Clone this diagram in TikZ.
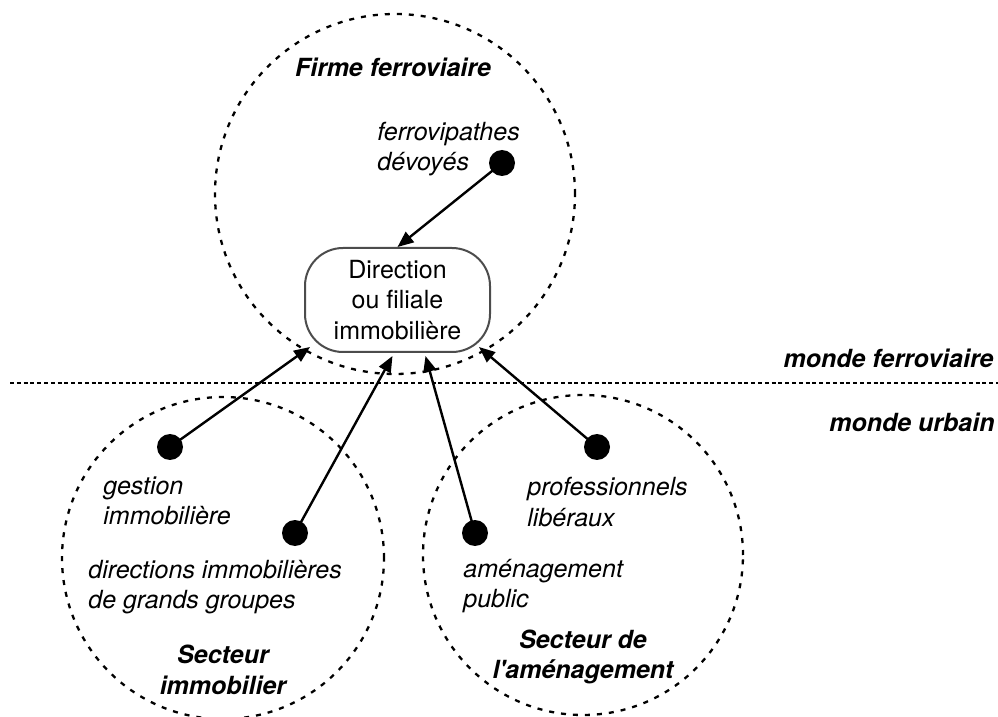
\documentclass[tikz,border=0pt]{standalone}
\usepackage{fontspec}
\setmainfont{TeX Gyre Heros}
\usetikzlibrary{arrows.meta}

\begin{document}
\begin{tikzpicture}[x=0.5pt,y=-0.5pt,line join=round,>={Triangle[length=8pt,width=6.5pt]},
	font=\fontsize{12.5}{15.25}\selectfont,
	cercle/.style={dash pattern=on 2.5pt off 3.5pt,line width=1.15pt},
	lien/.style={->,line width=1.2pt},
	boite/.style={draw=black!70,line width=1pt,rounded corners=19pt,fill=white,
		minimum width=92.5pt,minimum height=52pt,align=center,inner sep=0pt},
	etiq/.style={font=\fontsize{12.5}{15.25}\selectfont\itshape,align=left,anchor=west,inner sep=0pt},
	titre/.style={font=\fontsize{12.5}{15.25}\selectfont\bfseries\itshape,align=center,inner sep=0pt}]
	\useasboundingbox (0,0) rectangle (998,717);
	%% Khai bao diem
	\path
	(395,194) coordinate (O1)
	(223,558) coordinate (O2)
	(583,555) coordinate (O3)
	(502,163) coordinate (F)
	(170,447) coordinate (G)
	(295,533) coordinate (D)
	(475,533) coordinate (A)
	(597,447) coordinate (P)
	(10,383) coordinate (L1)
	(998,383) coordinate (L2)
	;
	
	%% les trois mondes
	\draw[cercle] (O1) circle (90pt);
	\draw[cercle] (O2) circle (80.5pt);
	\draw[cercle] (O3) circle (80pt);
	\draw[dash pattern=on 2pt off 1.4pt,line width=0.75pt] (L1)--(L2);
	
	\node[boite] (dir) at (397.5,300) {Direction\\ou filiale\\immobilière};
	\path
	([shift={(6,-6)}]dir.south west) coordinate (tG)
	([shift={(-5,3)}]dir.south) coordinate (tD)
	([shift={(28,3)}]dir.south) coordinate (tA)
	([shift={(-12,-6)}]dir.south east) coordinate (tP)
	;
	
	%% fleches
	\draw[lien] (F)--(dir.north);
	\draw[lien] (G)--(tG);
	\draw[lien] (D)--(tD);
	\draw[lien] (A)--(tA);
	\draw[lien] (P)--(tP);
	%% vẽ điểm
	\foreach \x in {F,G,D,A,P}
	\fill (\x) circle (6.5pt);
	
	%% textes
	\node[titre] (firme) at (393,67) {Firme ferroviaire};
	\node[titre] (simmo) at (223,670) {Secteur\\immobilier};
	\node[titre] (samen) at (583,657) {Secteur de\\l\textquotesingle aménagement};
	\node[titre,anchor=east] (mferro) at (994,358) {monde ferroviaire};
	\node[titre,anchor=east] (murb) at (995,422) {monde urbain};
	\node[etiq] (eF) at (377,149) {ferrovipathes\\dévoyés};
	\node[etiq] (eG) at (103,501) {gestion\\immobilière};
	\node[etiq] (eD) at (88,587) {directions immobilières\\de grands groupes};
	\node[etiq] (eP) at (527,502) {professionnels\\libéraux};
	\node[etiq] (eA) at (463,586) {aménagement\\public};
\end{tikzpicture}
\end{document}
